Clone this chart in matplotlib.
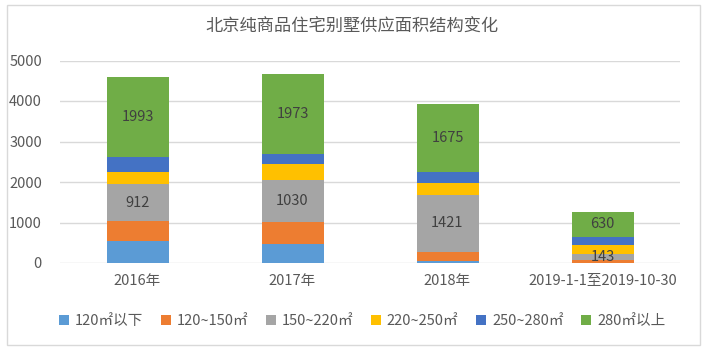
import matplotlib
matplotlib.use("Agg")
import matplotlib.pyplot as plt
from matplotlib.patches import Rectangle, Patch

plt.rcParams['font.family'] = ['Noto Sans CJK SC', 'DejaVu Sans']

categories = ["2016年", "2017年", "2018年", "2019-1-1至2019-10-30"]
series_names = ["120㎡以下", "120~150㎡", "150~220㎡", "220~250㎡", "250~280㎡", "280㎡以上"]
s_lt120 = [540, 477, 50, 5]
s_120_150 = [495, 535, 220, 70]
s_150_220 = [912, 1030, 1421, 143]
s_220_250 = [290, 400, 285, 220]
s_250_280 = [370, 250, 270, 200]
s_gt280 = [1993, 1973, 1675, 630]
series = [s_lt120, s_120_150, s_150_220, s_220_250, s_250_280, s_gt280]
labeled = [False, False, True, False, False, True]
colors = ["#5B9BD5", "#ED7D31", "#A5A5A5", "#FFC000", "#4472C4", "#70AD47"]
yticks = [0, 1000, 2000, 3000, 4000, 5000]

fig = plt.figure(figsize=(7.07, 3.52), dpi=100)
fig.patches.append(Rectangle((7/707, 7/352), 693/707, 340/352, transform=fig.transFigure,
                             fill=False, edgecolor="#d9d9d9", linewidth=1))
ax = fig.add_axes([60/707, 89/352, 620/707, 202.5/352])

x = list(range(len(categories)))
bottoms = [0] * len(categories)
for vals, col, name, lab in zip(series, colors, series_names, labeled):
    bars = ax.bar(x, vals, width=0.4, bottom=bottoms, color=col, label=name, zorder=3)
    if lab:
        for xi, v, b in zip(x, vals, bottoms):
            ax.text(xi, b + v / 2, str(v), ha="center", va="center", fontsize=10.5,
                    color="#404040", zorder=4)
    bottoms = [b + v for b, v in zip(bottoms, vals)]

ax.set_xlim(-0.5, 3.5)
ax.set_ylim(0, 5000)
ax.set_yticks(yticks)
ax.set_yticklabels([str(t) for t in yticks])
ax.set_xticks(x)
ax.set_xticklabels(categories)
ax.yaxis.grid(True, color="#d9d9d9", linewidth=1, zorder=0)
for s in ax.spines.values():
    s.set_visible(False)
ax.tick_params(axis="both", length=0, labelsize=10.5, colors="#595959")
ax.tick_params(axis="y", pad=13)
ax.tick_params(axis="x", pad=8)

fig.text(352/707, 1 - 27/352, "北京纯商品住宅别墅供应面积结构变化", ha="center", va="center",
         fontsize=12.4, color="#595959")

handles = [Patch(facecolor=c, edgecolor="none") for c in colors]
fig.legend(handles, series_names, loc="center", bbox_to_anchor=(362/707, 1 - 321/352), ncol=6,
           frameon=False, fontsize=10.5, handlelength=0.7, handleheight=0.7, handletextpad=0.4,
           columnspacing=1.2, labelcolor="#595959")

fig.savefig("out.png", dpi=100)
